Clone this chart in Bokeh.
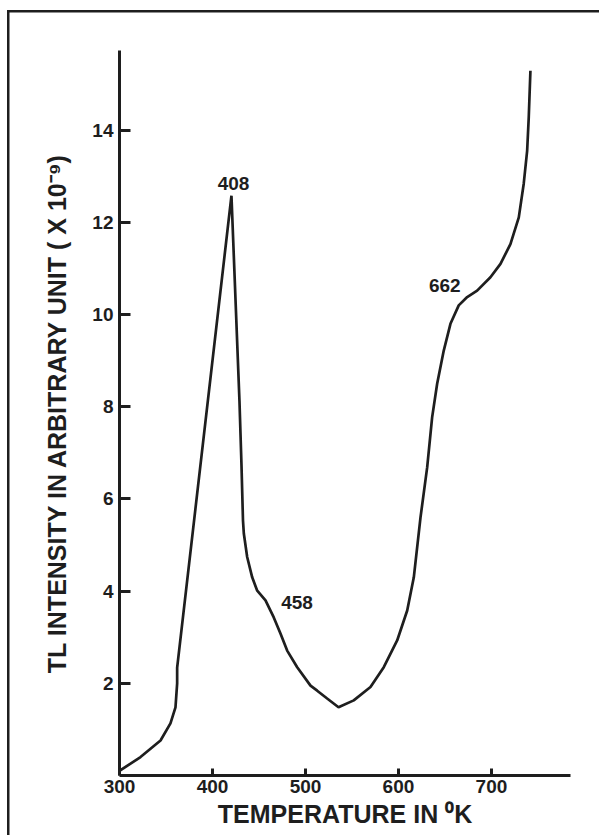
from bokeh.plotting import figure
from bokeh.models import FixedTicker, ColumnDataSource, LabelSet
from bokeh.core.properties import value
from bokeh.embed import file_html
from bokeh.resources import INLINE

# --- data ---
temperature = [300, 322.6, 344.1, 354.8, 360.2, 362.0, 362.0, 420.4, 429.0, 431.2,
               432.8, 433.7, 437.3, 442.7, 448.1, 457.0, 465.9, 473.1, 480.3, 491.1,
               505.4, 512.6, 523.3, 535.5, 551.9, 569.9, 584.2, 598.6, 609.4, 616.5,
               623.7, 630.9, 636.2, 641.6, 648.7, 655.9, 664.8, 673.9, 684.6, 698.9,
               709.7, 720.4, 729.4, 734.7, 738.4, 740.1, 741.9]
intensity = [0.10, 0.40, 0.76, 1.13, 1.48, 2.00, 2.34, 12.58, 8.13, 6.72,
             5.53, 5.25, 4.74, 4.30, 4.01, 3.80, 3.43, 3.08, 2.71, 2.35,
             1.95, 1.84, 1.67, 1.48, 1.63, 1.92, 2.35, 2.93, 3.58, 4.30,
             5.60, 6.69, 7.77, 8.50, 9.22, 9.80, 10.20, 10.38, 10.52, 10.81,
             11.10, 11.53, 12.11, 12.84, 13.56, 14.28, 15.29]

peak_labels = ["408", "458", "662"]
peak_label_x = [422.6, 490.9, 649.8]
peak_label_y = [12.71, 3.62, 10.50]

x_ticks = [300, 400, 500, 600, 700]
y_ticks = [2, 4, 6, 8, 10, 12, 14]

x_title = "TEMPERATURE IN \u2070K"
y_title = "TL INTENSITY IN ARBITRARY UNIT ( X 10\u207b\u2079)"

INK = "#1e1e1e"
FONT = "Liberation Sans"

p = figure(width=599, height=835, x_range=(300, 785), y_range=(0, 15.73),
           output_backend="svg", toolbar_location=None,
           min_border_left=119, min_border_right=29, min_border_top=50,
           min_border_bottom=60)
p.grid.visible = False
p.outline_line_color = None
p.background_fill_color = "white"
p.border_fill_alpha = 0
# thin frame line along the top and left edge of the figure, as in the original
p.styles = {
    "background-color": "white",
    "box-shadow": ("inset 7px 0 0 0 white, inset 0 10px 0 0 white, "
                   "inset 9.5px 0 0 0 #1e1e1e, inset 0 12.5px 0 0 #1e1e1e"),
}

p.xaxis.ticker = FixedTicker(ticks=x_ticks)
p.yaxis.ticker = FixedTicker(ticks=y_ticks)
for ax in (p.xaxis, p.yaxis):
    ax.axis_line_width = 3
    ax.axis_line_color = INK
    ax.major_tick_line_width = 3
    ax.major_tick_line_color = INK
    ax.major_tick_out = 0
    ax.minor_tick_line_color = None
    ax.major_label_text_font = FONT
    ax.major_label_text_font_style = "bold"
    ax.major_label_text_font_size = "19px"
    ax.major_label_text_color = INK
    ax.major_label_standoff = 6
    ax.axis_label_text_font = FONT
    ax.axis_label_text_font_style = "bold"
    ax.axis_label_text_font_size = "25px"
    ax.axis_label_text_color = INK
p.xaxis.major_tick_in = 7
p.yaxis.major_tick_in = 11

p.xaxis.axis_label = x_title
p.xaxis.major_label_standoff = 4
p.xaxis.axis_label_standoff = 4
p.yaxis.axis_label = y_title
p.yaxis.axis_label_standoff = 18

p.line(temperature, intensity, line_width=2.7, line_color=INK)

src = ColumnDataSource(dict(x=peak_label_x, y=peak_label_y, t=peak_labels))
p.add_layout(LabelSet(x="x", y="y", text="t", source=src, text_align="center",
                      text_baseline="bottom", text_font=value(FONT),
                      text_font_style="bold", text_font_size="19px", text_color=INK))

open("out.html", "w").write(file_html(p, INLINE))
